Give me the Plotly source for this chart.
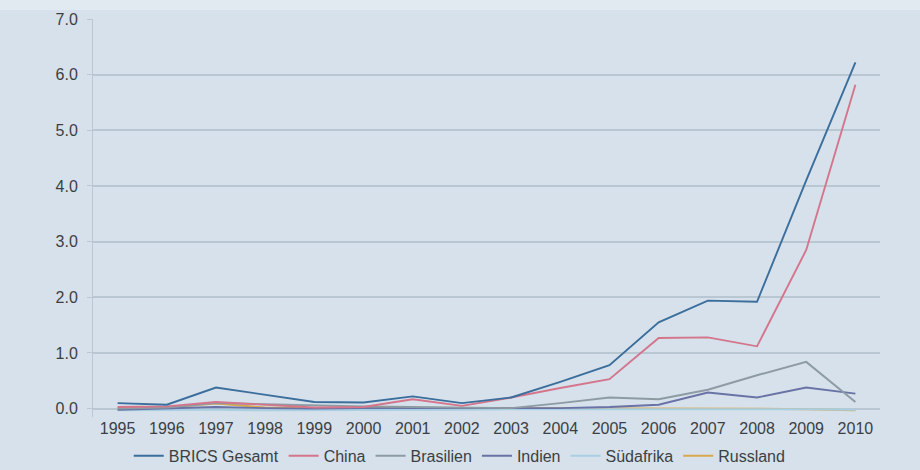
import plotly.graph_objects as go

years = [str(y) for y in range(1995, 2011)]

brics_gesamt = [0.10, 0.07, 0.38, 0.25, 0.12, 0.11, 0.22, 0.10, 0.20, 0.48, 0.78, 1.55, 1.94, 1.92, 4.10, 6.22]
china        = [0.03, 0.04, 0.12, 0.07, 0.02, 0.03, 0.17, 0.05, 0.20, 0.37, 0.53, 1.27, 1.28, 1.12, 2.85, 5.82]
brasilien    = [0.00, 0.02, 0.10, 0.08, 0.05, 0.04, 0.03, 0.02, 0.01, 0.10, 0.20, 0.17, 0.34, 0.60, 0.84, 0.12]
indien       = [-0.02, 0.00, 0.03, 0.01, 0.00, 0.01, 0.01, 0.00, 0.00, 0.01, 0.03, 0.07, 0.29, 0.20, 0.38, 0.27]
suedafrika   = [-0.03, -0.02, -0.02, -0.03, -0.03, -0.02, -0.02, -0.02, -0.01, -0.01, 0.00, 0.00, 0.00, -0.01, -0.01, -0.02]
russland     = [0.01, 0.02, 0.09, 0.02, 0.01, 0.02, 0.01, 0.01, 0.00, 0.00, 0.00, 0.01, 0.01, 0.00, -0.01, -0.03]

y_ticks = [0, 1, 2, 3, 4, 5, 6, 7]

series = [
    ("BRICS Gesamt", brics_gesamt, "#3b6e9c"),
    ("China", china, "#d4758c"),
    ("Brasilien", brasilien, "#8d9ba2"),
    ("Indien", indien, "#6973a6"),
    ("Südafrika", suedafrika, "#a9cfe3"),
    ("Russland", russland, "#d9a84e"),
]

fig = go.Figure()
# draw the small series first so the totals sit on top
for name, vals, color in reversed(series):
    fig.add_trace(go.Scatter(
        x=years, y=vals, name=name, mode="lines",
        line=dict(color=color, width=1.9),
    ))

bg = "#d6e1eb"
grid = "#b9c7d3"

fig.update_layout(
    width=920, height=470,
    paper_bgcolor=bg, plot_bgcolor=bg,
    margin=dict(l=93, r=40, t=19, b=53, autoexpand=False),
    font=dict(family="Liberation Sans, Arial, sans-serif", size=16, color="#3c3f44"),
    showlegend=True,
    legend=dict(
        orientation="h", x=0.466, xanchor="center", y=-0.055, yanchor="top",
        traceorder="reversed", bgcolor="rgba(0,0,0,0)",
        font=dict(size=16), itemwidth=30,
    ),
    shapes=[dict(type="rect", xref="paper", yref="paper", x0=-0.2, x1=1.1,
                 y0=1.0 + 9 / 398, y1=1.1, fillcolor="#e1e9f1", line_width=0,
                 layer="below")],
)

fig.update_xaxes(
    type="category", range=[-0.5, len(years) - 0.5],
    showgrid=False, zeroline=False, showline=False,
    ticks="", tickfont=dict(size=16),
)
fig.update_yaxes(
    range=[-0.15, 7.0], tickvals=y_ticks, tickformat=".1f",
    showgrid=True, gridcolor=grid, gridwidth=1.5,
    zeroline=False, showline=True, linecolor=grid, linewidth=1,
    ticks="outside", ticklen=5, tickcolor=grid, ticklabelstandoff=6,
    tickfont=dict(size=16),
)

fig.write_html("out.html")
